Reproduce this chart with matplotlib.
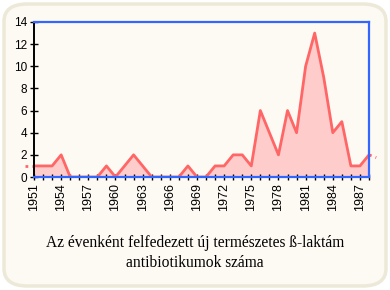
import matplotlib
matplotlib.use("Agg")
import matplotlib.pyplot as plt
from matplotlib.patches import FancyBboxPatch

years = list(range(1951, 1989))
counts = [1, 1, 1, 2, 0, 0, 0, 0, 1, 0, 1, 2, 1, 0, 0, 0, 0, 1, 0, 0,
          1, 1, 2, 2, 1, 6, 4, 2, 6, 4, 10, 13, 9, 4, 5, 1, 1, 2]
# values just outside the shown range (drawn dotted, past the axes)
edge_left = ([1950, 1951], [1, 1])
edge_right = ([1988, 1988.8], [2, 1.75])
label_years = list(range(1951, 1989, 3))
caption = "Az évenként felfedezett új természetes ß-laktám\nantibiotikumok száma"

line_col = "#FF6666"
fill_col = "#FFCCCC"
frame_col = "#3366FF"
bg_col = "#FDF9F3"

fig = plt.figure(figsize=(3.9, 2.9), dpi=100)
fig.patch.set_facecolor("white")

# rounded card behind everything
card = FancyBboxPatch((4 / 390, 4 / 290), 382 / 390, 282 / 290,
                      boxstyle="round,pad=0,rounding_size=0.06",
                      transform=fig.transFigure, facecolor=bg_col,
                      edgecolor="#ECE9D8", linewidth=2.5, zorder=0)
fig.patches.append(card)

ax = fig.add_axes([34 / 390, 1 - 177 / 290, 335 / 390, 155 / 290])
ax.set_zorder(2)
ax.set_facecolor(bg_col)

ax.fill_between(years, counts, 0, color=fill_col, linewidth=0, zorder=1)
ax.plot(years, counts, color=line_col, linewidth=2, zorder=2)
ax.plot(*edge_left, color=line_col, linewidth=2, linestyle=(0, (1, 1.5)),
        clip_on=False, zorder=2)
ax.plot(*edge_right, color=line_col, linewidth=2, linestyle=(0, (1, 1.5)),
        clip_on=False, zorder=2)

ax.set_xlim(1951, 1988)
ax.set_ylim(0, 14)
ax.set_yticks(range(0, 15, 2))
ax.set_xticks(years)
ax.set_xticklabels([str(y) if y in label_years else "" for y in years],
                   rotation=90, fontsize=9, family="Liberation Sans")
for t in ax.get_yticklabels():
    t.set_fontsize(8.5)
    t.set_family("Liberation Sans")
ax.tick_params(axis="both", direction="inout", length=6, width=1, color="black")
ax.tick_params(axis="x", pad=2, length=5)
ax.tick_params(axis="y", pad=2)

for s in ["top", "right", "bottom"]:
    ax.spines[s].set_color(frame_col)
    ax.spines[s].set_linewidth(1.6)
ax.spines["left"].set_color("black")
ax.spines["left"].set_linewidth(1.4)

fig.text(0.5, 1 - 253 / 290, caption, ha="center", va="center",
         fontsize=11.2, family="Liberation Serif", linespacing=1.3)

fig.savefig("out.png", dpi=100, facecolor=fig.get_facecolor())
